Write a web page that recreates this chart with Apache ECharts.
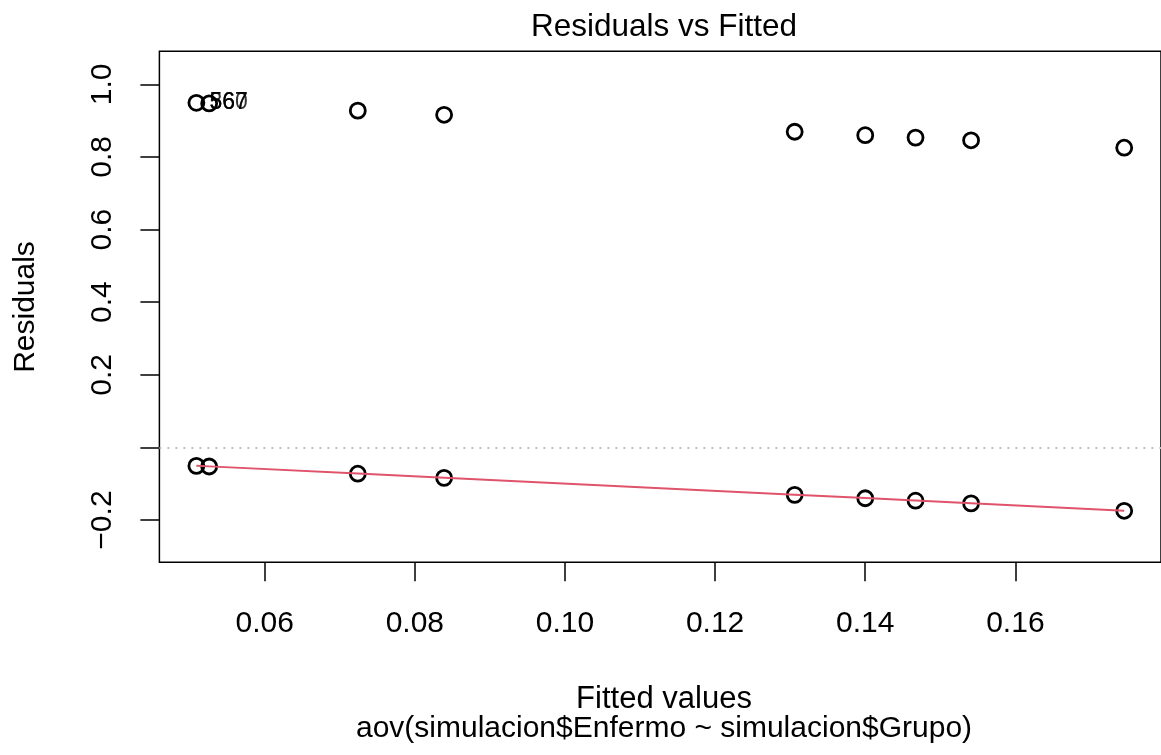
<!DOCTYPE html>
<html>
<head>
<meta charset="utf-8">
<title>Residuals vs Fitted</title>
<script src="https://cdn.jsdelivr.net/npm/echarts@6/dist/echarts.min.js"></script>
<style>
  html, body { margin: 0; padding: 0; background: #ffffff; }
  #chart { width: 1161px; height: 755px; }
</style>
</head>
<body>
<div id="chart"></div>
<script>
// Fitted values of the model (one per group)
const fitted = [0.0509, 0.0526, 0.0724, 0.0839, 0.1306, 0.1400, 0.1467, 0.1541, 0.1745];
// Residuals of the observations with Enfermo = 1
const residualsUpper = [0.9491, 0.9474, 0.9276, 0.9161, 0.8694, 0.8600, 0.8533, 0.8459, 0.8255];
// Residuals of the observations with Enfermo = 0
const residualsLower = [-0.0509, -0.0526, -0.0724, -0.0839, -0.1306, -0.1400, -0.1467, -0.1541, -0.1745];
// Robust smoother through the residuals
const smoothFit = [-0.0505, -0.0522, -0.0720, -0.0835, -0.1302, -0.1396, -0.1463, -0.1537, -0.1741];
// Identified observations (largest absolute residuals)
const pointIds = ['367', '560', '567'];
// Axis ticks
const xTicks = [0.06, 0.08, 0.10, 0.12, 0.14, 0.16];
const yTicks = [-0.2, 0.0, 0.2, 0.4, 0.6, 0.8, 1.0];

const FONT = "'Liberation Sans', Arial, Helvetica, sans-serif";
const GRID = { left: 159.4, top: 51.3, width: 1009.4, height: 511 };

const points = fitted.map((x, i) => [x, residualsUpper[i]])
  .concat(fitted.map((x, i) => [x, residualsLower[i]]));
const smoothLine = fitted.map((x, i) => [x, smoothFit[i]]);
const idPoints = pointIds.map(() => [fitted[0], residualsUpper[0]]);

const chart = echarts.init(document.getElementById('chart'), null, { renderer: 'canvas' });

chart.setOption({
  animation: false,
  backgroundColor: '#ffffff',
  grid: Object.assign({ show: true, borderColor: '#000', borderWidth: 1.5, backgroundColor: 'transparent' }, GRID),
  xAxis: {
    type: 'value',
    min: 0.04597,
    max: 0.1794,
    axisLine: { show: false, onZero: false },
    splitLine: { show: false },
    axisTick: { show: true, inside: false, length: 19, customValues: xTicks, lineStyle: { color: '#000', width: 1.5 } },
    axisLabel: {
      customValues: xTicks,
      margin: 46,
      color: '#000',
      fontFamily: FONT,
      fontSize: 30,
      formatter: v => v.toFixed(2)
    }
  },
  yAxis: {
    type: 'value',
    min: -0.3164,
    max: 1.091,
    axisLine: { show: false, onZero: false },
    splitLine: { show: false },
    axisTick: { show: true, inside: false, length: 19, customValues: yTicks, lineStyle: { color: '#000', width: 1.5 } },
    axisLabel: {
      customValues: yTicks,
      rotate: 90,
      margin: 42,
      color: '#000',
      fontFamily: FONT,
      fontSize: 30,
      formatter: v => Math.abs(v) < 1e-9 ? '' : (v < 0 ? '\u2212' : '') + Math.abs(v).toFixed(1)
    }
  },
  series: [
    {
      name: 'Residuals',
      type: 'scatter',
      data: points,
      symbol: 'circle',
      symbolSize: 15,
      itemStyle: { color: 'rgba(0,0,0,0)', borderColor: '#000', borderWidth: 2.8, opacity: 1 },
      z: 2,
      markLine: {
        silent: true,
        symbol: ['none', 'none'],
        label: { show: false },
        lineStyle: { color: '#BEBEBE', type: [2, 6], width: 2 },
        data: [{ yAxis: 0 }]
      }
    },
    {
      name: 'Smoother',
      type: 'line',
      data: smoothLine,
      showSymbol: false,
      symbol: 'none',
      lineStyle: { color: '#DF536B', width: 2 },
      z: 3
    },
    {
      name: 'Ids',
      type: 'scatter',
      data: idPoints,
      symbolSize: 0,
      z: 4,
      label: {
        show: true,
        position: 'right',
        distance: 13,
        offset: [0, -1],
        color: '#000',
        fontFamily: FONT,
        fontSize: 23,
        formatter: p => pointIds[p.dataIndex]
      },
      labelLayout: { hideOverlap: false }
    }
  ],
  graphic: [
    {
      type: 'text', x: 664, y: 27,
      style: { text: 'Residuals vs Fitted', font: '31.5px ' + FONT, fill: '#000', textAlign: 'center', textVerticalAlign: 'middle' }
    },
    {
      type: 'text', x: 664, y: 699,
      style: { text: 'Fitted values', font: '31px ' + FONT, fill: '#000', textAlign: 'center', textVerticalAlign: 'middle' }
    },
    {
      type: 'text', x: 664, y: 729,
      style: { text: 'aov(simulacion$Enfermo ~ simulacion$Grupo)', font: '30px ' + FONT, fill: '#000', textAlign: 'center', textVerticalAlign: 'middle' }
    },
    {
      type: 'text', x: 26, y: 307, rotation: Math.PI / 2,
      style: { text: 'Residuals', font: '30px ' + FONT, fill: '#000', textAlign: 'center', textVerticalAlign: 'middle' }
    }
  ]
});
</script>
</body>
</html>
